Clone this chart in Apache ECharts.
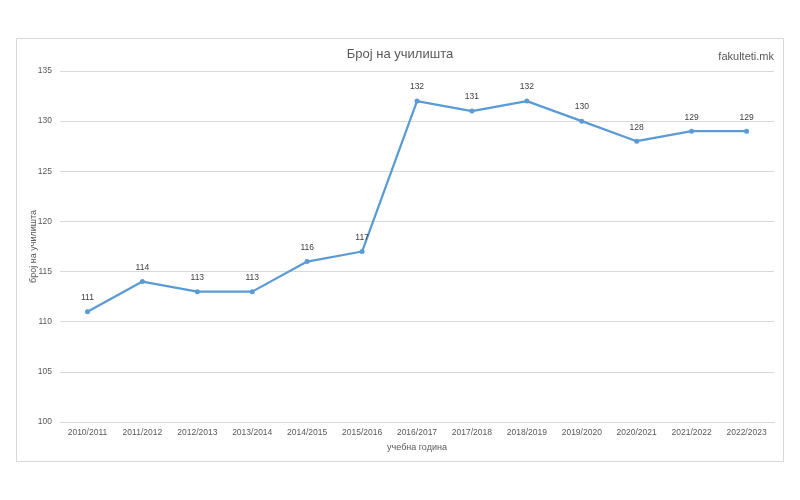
<!DOCTYPE html>
<html><head><meta charset="utf-8">
<script src="https://cdn.jsdelivr.net/npm/echarts@6/dist/echarts.min.js"></script>
<style>html,body{margin:0;padding:0;background:#fff}#c{width:800px;height:500px}</style>
</head><body><div id="c"></div>
<script>
const categories = ['2010/2011','2011/2012','2012/2013','2013/2014','2014/2015','2015/2016','2016/2017','2017/2018','2018/2019','2019/2020','2020/2021','2021/2022','2022/2023'];
const schools = [111,114,113,113,116,117,132,131,132,130,128,129,129];
const yTicks = {min:100, max:135, interval:5};

const chart = echarts.init(document.getElementById('c'));
chart.setOption({
  animation:false,
  textStyle:{fontFamily:'Liberation Sans, Arial, sans-serif'},
  graphic:[
    {type:'rect', shape:{x:16.5,y:38.5,width:767,height:423}, style:{fill:'none', stroke:'#d9d9d9', lineWidth:1}, z:-1},
    {type:'text', right:26, top:51, style:{text:'fakulteti.mk', fill:'#595959', font:'11px Liberation Sans, Arial, sans-serif'}}
  ],
  title:{text:'Број на училишта', left:'center', top:43, textStyle:{fontSize:13, fontWeight:'normal', color:'#595959'}},
  grid:{left:60, right:26, top:71, bottom:78, containLabel:false},
  xAxis:{type:'category', data:categories, boundaryGap:true,
    name:'учебна година', nameLocation:'middle', nameGap:21, nameMoveOverlap:false,
    nameTextStyle:{fontSize:9, color:'#595959'},
    axisLine:{lineStyle:{color:'#d9d9d9'}}, axisTick:{show:false},
    axisLabel:{fontSize:8.5, color:'#595959', margin:6}},
  yAxis:{type:'value', min:yTicks.min, max:yTicks.max, interval:yTicks.interval,
    name:'број на училишта', nameLocation:'middle', nameGap:22, nameRotate:90, nameMoveOverlap:false,
    nameTextStyle:{fontSize:9, color:'#595959'},
    axisLine:{show:false}, axisTick:{show:false},
    axisLabel:{fontSize:8.5, color:'#595959', margin:8},
    splitLine:{lineStyle:{color:'#d9d9d9'}}},
  series:[{type:'line', data:schools, symbol:'circle', symbolSize:5,
    lineStyle:{color:'#5b9bd5', width:2.25}, itemStyle:{color:'#5b9bd5'},
    label:{show:true, position:'top', distance:7, fontSize:8.5, color:'#404040'}}]
});
</script></body></html>
